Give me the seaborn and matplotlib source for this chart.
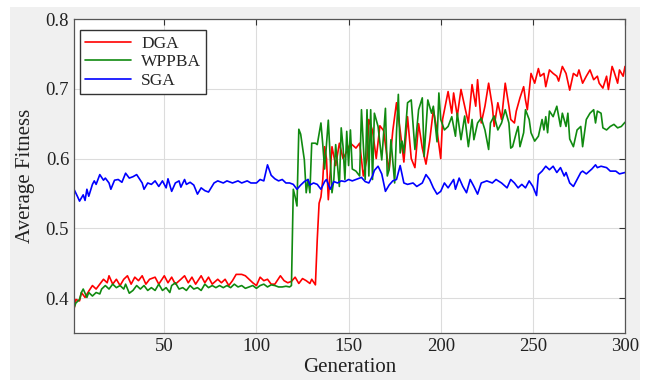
import pandas as pd
import seaborn as sns
import matplotlib.pyplot as plt
from matplotlib.patches import Rectangle

# values (generation, average fitness)
gen_sga = [1, 3, 4, 6, 7, 8, 9, 11, 12, 13, 15, 17, 18, 20, 21, 23, 25, 27, 29, 31, 33, 35, 37, 38, 39, 41, 43, 45, 47, 49,
           51, 52, 54, 56, 58, 59, 61, 62, 64, 66, 68, 70, 72, 74, 77, 79, 82, 84, 87, 90, 92, 95, 97, 100, 102, 104, 106, 108, 110, 112,
           114, 116, 118, 120, 122, 124, 126, 128, 129, 131, 133, 135, 137, 138, 140, 142, 144, 146, 148, 150, 152, 154, 157, 159, 161, 163, 164, 166, 168, 170,
           172, 174, 176, 178, 180, 182, 185, 187, 190, 192, 194, 196, 198, 200, 202, 204, 207, 208, 210, 212, 214, 216, 218, 220, 222, 225, 228, 230, 233, 236,
           238, 240, 242, 244, 246, 248, 250, 252, 253, 255, 257, 259, 261, 263, 265, 267, 268, 270, 272, 274, 276, 277, 279, 282, 284, 285, 287, 290, 292, 295,
           297, 300]
fit_sga = [0.556, 0.545, 0.539, 0.548, 0.540, 0.556, 0.546, 0.563, 0.568, 0.563, 0.577, 0.569, 0.572, 0.565, 0.556, 0.569, 0.570, 0.566, 0.579, 0.572,
           0.574, 0.577, 0.569, 0.565, 0.556, 0.565, 0.563, 0.568, 0.560, 0.568, 0.558, 0.571, 0.553, 0.565, 0.568, 0.559, 0.570, 0.563, 0.566, 0.562,
           0.549, 0.558, 0.554, 0.552, 0.565, 0.568, 0.565, 0.568, 0.565, 0.568, 0.565, 0.568, 0.565, 0.565, 0.570, 0.568, 0.591, 0.576, 0.571, 0.568,
           0.570, 0.565, 0.565, 0.563, 0.556, 0.562, 0.567, 0.570, 0.562, 0.565, 0.563, 0.556, 0.567, 0.570, 0.556, 0.567, 0.565, 0.568, 0.567, 0.570,
           0.568, 0.570, 0.573, 0.567, 0.565, 0.575, 0.583, 0.589, 0.578, 0.553, 0.562, 0.568, 0.570, 0.590, 0.565, 0.563, 0.565, 0.560, 0.565, 0.577,
           0.570, 0.558, 0.549, 0.553, 0.565, 0.558, 0.570, 0.556, 0.572, 0.560, 0.551, 0.570, 0.560, 0.549, 0.565, 0.568, 0.565, 0.570, 0.565, 0.558,
           0.570, 0.565, 0.558, 0.563, 0.558, 0.568, 0.560, 0.547, 0.577, 0.582, 0.589, 0.584, 0.589, 0.580, 0.587, 0.575, 0.580, 0.565, 0.560, 0.570,
           0.580, 0.582, 0.578, 0.585, 0.591, 0.587, 0.589, 0.587, 0.582, 0.582, 0.578, 0.580]

gen_dga = [1, 2, 4, 5, 7, 9, 11, 13, 15, 17, 19, 20, 22, 24, 26, 28, 30, 32, 34, 36, 38, 40, 42, 45, 47, 50, 52, 54, 56, 59,
           61, 63, 65, 67, 70, 72, 74, 76, 79, 81, 83, 85, 87, 89, 92, 94, 96, 98, 100, 102, 104, 106, 108, 110, 113, 115, 117, 119, 121, 123,
           125, 127, 129, 130, 132, 133, 134, 135, 136, 137, 138, 139, 141, 143, 145, 147, 149, 151, 154, 156, 158, 160, 161, 163, 165, 167, 169, 171, 172, 174,
           176, 178, 180, 182, 184, 186, 188, 190, 192, 194, 196, 198, 200, 201, 204, 206, 207, 209, 211, 213, 215, 217, 219, 220, 222, 224, 226, 228, 229, 231,
           233, 235, 237, 238, 240, 241, 243, 245, 246, 247, 249, 251, 253, 254, 256, 257, 259, 261, 263, 264, 266, 268, 270, 272, 274, 275, 277, 279, 281, 283,
           285, 286, 288, 290, 291, 293, 294, 296, 297, 299, 300]
fit_dga = [0.384, 0.398, 0.396, 0.408, 0.401, 0.410, 0.418, 0.413, 0.420, 0.427, 0.422, 0.432, 0.420, 0.427, 0.418, 0.427, 0.432, 0.420, 0.430, 0.425,
           0.432, 0.420, 0.427, 0.430, 0.420, 0.432, 0.422, 0.430, 0.420, 0.427, 0.432, 0.422, 0.430, 0.420, 0.432, 0.422, 0.430, 0.420, 0.427, 0.422,
           0.427, 0.418, 0.425, 0.434, 0.434, 0.432, 0.427, 0.422, 0.418, 0.430, 0.425, 0.427, 0.420, 0.420, 0.432, 0.425, 0.422, 0.424, 0.430, 0.421,
           0.428, 0.425, 0.421, 0.427, 0.419, 0.484, 0.536, 0.545, 0.570, 0.617, 0.600, 0.541, 0.617, 0.590, 0.622, 0.600, 0.610, 0.622, 0.615, 0.622,
           0.575, 0.600, 0.656, 0.640, 0.600, 0.647, 0.640, 0.600, 0.584, 0.640, 0.680, 0.640, 0.595, 0.660, 0.600, 0.587, 0.650, 0.615, 0.592, 0.625,
           0.670, 0.640, 0.600, 0.656, 0.696, 0.665, 0.694, 0.661, 0.699, 0.675, 0.651, 0.706, 0.675, 0.713, 0.651, 0.675, 0.708, 0.675, 0.646, 0.680,
           0.656, 0.708, 0.675, 0.656, 0.651, 0.668, 0.687, 0.703, 0.684, 0.670, 0.722, 0.708, 0.729, 0.718, 0.722, 0.703, 0.727, 0.722, 0.718, 0.711,
           0.732, 0.722, 0.698, 0.722, 0.718, 0.727, 0.708, 0.718, 0.727, 0.713, 0.718, 0.708, 0.701, 0.718, 0.699, 0.732, 0.725, 0.708, 0.727, 0.718,
           0.732]

gen_wppba = [1, 2, 4, 5, 6, 8, 9, 11, 13, 15, 16, 18, 20, 22, 24, 26, 28, 29, 31, 33, 35, 37, 39, 41, 43, 45, 47, 49, 51, 53,
             54, 56, 58, 60, 62, 64, 66, 68, 70, 72, 74, 76, 78, 80, 82, 84, 86, 88, 90, 92, 94, 96, 98, 100, 102, 104, 106, 108, 110, 112,
             114, 116, 118, 119, 120, 121, 122, 123, 124, 125, 126, 127, 128, 129, 130, 132, 133, 135, 136, 137, 139, 141, 142, 143, 145, 146, 147, 148, 149, 150,
             151, 152, 154, 156, 157, 159, 160, 161, 162, 163, 164, 166, 168, 170, 171, 172, 173, 175, 176, 177, 178, 179, 180, 182, 184, 186, 188, 190, 191, 193,
             195, 196, 198, 199, 200, 202, 204, 206, 208, 209, 211, 213, 215, 217, 218, 220, 222, 224, 226, 227, 229, 231, 233, 235, 237, 238, 239, 241, 242, 243,
             245, 246, 248, 249, 251, 253, 255, 256, 257, 258, 259, 261, 263, 265, 266, 268, 269, 270, 272, 274, 276, 277, 279, 281, 283, 284, 285, 287, 288, 290,
             292, 294, 296, 298, 300]
fit_wppba = [0.386, 0.393, 0.398, 0.408, 0.413, 0.401, 0.408, 0.403, 0.408, 0.406, 0.413, 0.418, 0.413, 0.420, 0.415, 0.418, 0.413, 0.420, 0.407, 0.411,
             0.418, 0.413, 0.418, 0.411, 0.415, 0.411, 0.420, 0.411, 0.415, 0.408, 0.418, 0.422, 0.413, 0.415, 0.411, 0.418, 0.413, 0.415, 0.411, 0.420,
             0.415, 0.418, 0.415, 0.418, 0.415, 0.418, 0.415, 0.420, 0.416, 0.418, 0.414, 0.416, 0.418, 0.414, 0.418, 0.420, 0.416, 0.419, 0.418, 0.416,
             0.416, 0.417, 0.416, 0.418, 0.556, 0.545, 0.532, 0.642, 0.635, 0.617, 0.598, 0.551, 0.570, 0.551, 0.622, 0.622, 0.620, 0.651, 0.620, 0.585,
             0.655, 0.551, 0.570, 0.620, 0.560, 0.644, 0.617, 0.570, 0.639, 0.590, 0.641, 0.585, 0.582, 0.575, 0.670, 0.570, 0.670, 0.575, 0.670, 0.570,
             0.665, 0.646, 0.598, 0.672, 0.575, 0.584, 0.627, 0.565, 0.637, 0.692, 0.608, 0.625, 0.608, 0.680, 0.684, 0.613, 0.670, 0.687, 0.603, 0.684,
             0.665, 0.675, 0.624, 0.694, 0.656, 0.641, 0.646, 0.660, 0.632, 0.665, 0.627, 0.661, 0.617, 0.656, 0.627, 0.651, 0.658, 0.641, 0.613, 0.651,
             0.661, 0.641, 0.651, 0.670, 0.651, 0.615, 0.617, 0.637, 0.646, 0.617, 0.637, 0.670, 0.656, 0.637, 0.625, 0.632, 0.656, 0.641, 0.660, 0.637,
             0.668, 0.660, 0.675, 0.646, 0.665, 0.646, 0.665, 0.628, 0.617, 0.641, 0.646, 0.617, 0.656, 0.665, 0.670, 0.651, 0.668, 0.665, 0.644, 0.641,
             0.646, 0.649, 0.644, 0.646, 0.652]

x_ticks = [50, 100, 150, 200, 250, 300]
y_ticks = [0.4, 0.5, 0.6, 0.7, 0.8]

sns.set_style("white")
plt.rcParams['font.family'] = ['Liberation Serif', 'DejaVu Serif']

fig = plt.figure(figsize=(6.51, 3.83), dpi=100, facecolor='white')
# grey figure panel like the MATLAB window, inside a thin white border
fig.patches.append(Rectangle((10 / 651, 3 / 383), 630 / 651, 373 / 383, transform=fig.transFigure,
                             facecolor='#f0f0f0', edgecolor='none', zorder=-10))

ax = fig.add_axes([74 / 651, 1 - 333 / 383, 551 / 651, 314 / 383])
ax.set_facecolor('white')
ax.set_zorder(5)

sns.lineplot(x=gen_dga, y=fit_dga, ax=ax, color='#ff0000', lw=1.2, label='DGA', sort=False, estimator=None)
sns.lineplot(x=gen_wppba, y=fit_wppba, ax=ax, color='#108a10', lw=1.2, label='WPPBA', sort=False, estimator=None)
sns.lineplot(x=gen_sga, y=fit_sga, ax=ax, color='#0000ff', lw=1.2, label='SGA', sort=False, estimator=None)

ax.set_xlim(1, 300)
ax.set_ylim(0.35, 0.8)
ax.set_xticks(x_ticks)
ax.set_yticks(y_ticks)
ax.set_yticklabels([f"{t:.1f}" for t in y_ticks])
ax.grid(True, color='#dcdcdc', lw=0.8)
ax.tick_params(direction='in', top=True, right=True, length=4, labelsize=13.5,
               colors='#333333', labelcolor='#222222')
for s in ax.spines.values():
    s.set_color('#555555')
    s.set_linewidth(0.9)

ax.set_xlabel("Generation", fontsize=15, color='#222222', labelpad=2)
ax.set_ylabel("Average Fitness", fontsize=15, color='#222222', labelpad=8)

ax.legend(loc='upper left', bbox_to_anchor=(0.005, 0.975), fontsize=12.5, frameon=True, fancybox=False,
          edgecolor='#333333', framealpha=1, handlelength=2.6, borderpad=0.3, labelspacing=0.15,
          handletextpad=0.6, borderaxespad=0.2)

plt.savefig('out.png', dpi=100, facecolor=fig.get_facecolor())
